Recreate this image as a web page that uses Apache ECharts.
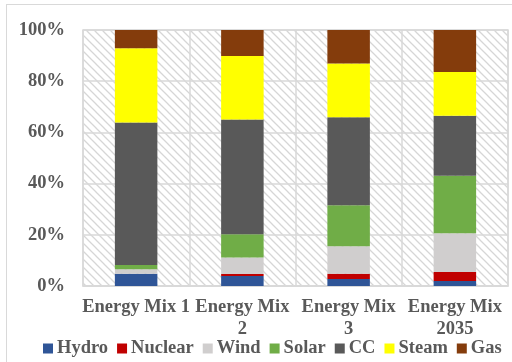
<!DOCTYPE html>
<html>
<head>
<meta charset="utf-8">
<script src="https://cdn.jsdelivr.net/npm/echarts@6/dist/echarts.min.js"></script>
<style>
  html, body { margin: 0; padding: 0; background: #fff; }
  #frame { position: absolute; left: 6px; top: 4px; width: 520px; height: 380px; border: 1px solid #d9d9d9; box-sizing: border-box; }
  #chart { position: absolute; left: 0; top: 0; width: 512px; height: 362px; }
</style>
</head>
<body>
<div id="frame"></div>
<div id="chart"></div>
<script>
// Share of each generation source per scenario (percent of total)
const categories = ['Energy Mix 1', 'Energy Mix\n2', 'Energy Mix\n3', 'Energy Mix\n2035'];
const hydro   = [4.8, 3.9, 2.7, 2.0];
const nuclear = [0.0, 0.8, 2.1, 3.5];
const wind    = [1.7, 6.4, 10.7, 15.1];
const solar   = [1.7, 9.1, 16.0, 22.5];
const cc      = [55.7, 44.8, 34.4, 23.4];
const steam   = [29.0, 24.8, 21.0, 17.1];
const gas     = [7.1, 10.2, 13.1, 16.4];
const yTicks  = [0, 20, 40, 60, 80, 100];

const seriesDefs = [
  { name: 'Hydro',   data: hydro,   color: '#2F5597' },
  { name: 'Nuclear', data: nuclear, color: '#C00000' },
  { name: 'Wind',    data: wind,    color: '#D0CECE' },
  { name: 'Solar',   data: solar,   color: '#70AD47' },
  { name: 'CC',      data: cc,      color: '#595959' },
  { name: 'Steam',   data: steam,   color: '#FFFF00' },
  { name: 'Gas',     data: gas,     color: '#843C0C' }
];

// Diagonal hatch tile for the plot background
function hatchTile() {
  const s = 8;
  const c = document.createElement('canvas');
  c.width = s; c.height = s;
  const g = c.getContext('2d');
  g.fillStyle = '#ffffff';
  g.fillRect(0, 0, s, s);
  g.strokeStyle = '#d6d6d6';
  g.lineWidth = 1.3;
  g.beginPath();
  g.moveTo(-1, -1); g.lineTo(s + 1, s + 1);
  g.moveTo(-1 - s, -1); g.lineTo(1, s + 1);
  g.moveTo(s - 1, -1); g.lineTo(2 * s + 1, s + 1);
  g.stroke();
  return c;
}

const font = '"Liberation Serif", "Times New Roman", serif';
const textColor = '#595959';
const fontSize = 18.5;

const chart = echarts.init(document.getElementById('chart'), null, { renderer: 'canvas' });
chart.setOption({
  animation: false,
  backgroundColor: 'transparent',
  grid: {
    left: 83, right: 4, top: 30, bottom: 76,
    show: true,
    borderColor: '#d9d9d9',
    borderWidth: 1.5,
    backgroundColor: { image: hatchTile(), repeat: 'repeat' }
  },
  legend: {
    top: 339,
    left: 43,
    width: 469,
    padding: 0,
    itemWidth: 10,
    itemHeight: 10,
    itemGap: 9,
    icon: 'rect',
    textStyle: { fontFamily: font, fontWeight: 'bold', fontSize: fontSize, color: textColor, padding: [0, 0, 0, -1] },
    data: seriesDefs.map(s => s.name)
  },
  xAxis: {
    type: 'category',
    data: categories,
    axisLine: { show: true, lineStyle: { color: '#d9d9d9', width: 1.5 } },
    axisTick: { show: false },
    splitLine: { show: true, lineStyle: { color: '#d9d9d9', width: 1.5 } },
    axisLabel: {
      interval: 0,
      margin: 10,
      fontFamily: font, fontWeight: 'bold', fontSize: fontSize, color: textColor,
      lineHeight: 22
    }
  },
  yAxis: {
    type: 'value',
    min: yTicks[0],
    max: yTicks[yTicks.length - 1],
    interval: yTicks[1] - yTicks[0],
    axisLine: { show: false },
    axisTick: { show: false },
    splitLine: { show: true, lineStyle: { color: '#d9d9d9', width: 1.5 } },
    axisLabel: {
      margin: 18,
      formatter: '{value}%',
      fontFamily: font, fontWeight: 'bold', fontSize: fontSize, color: textColor
    }
  },
  series: seriesDefs.map(s => ({
    name: s.name,
    type: 'bar',
    stack: 'mix',
    barWidth: '40%',
    data: s.data,
    itemStyle: { color: s.color },
    emphasis: { disabled: true }
  }))
});
</script>
</body>
</html>
